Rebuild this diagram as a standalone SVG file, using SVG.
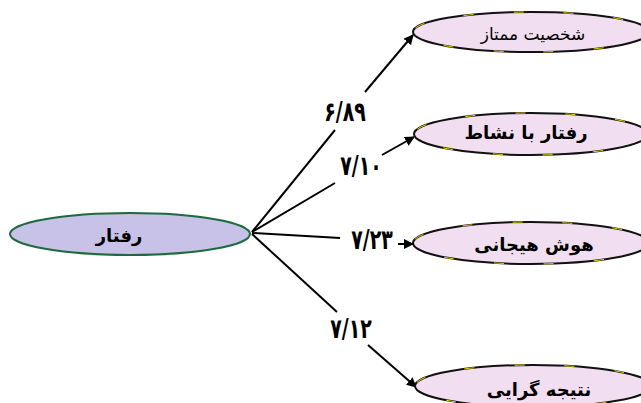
<svg xmlns="http://www.w3.org/2000/svg" width="641" height="403" viewBox="0 0 641 403">
<defs>
<marker id="ah" viewBox="0 0 10 10" refX="9" refY="5" markerWidth="10" markerHeight="10" markerUnits="userSpaceOnUse" orient="auto">
<path d="M0,0 L10,5 L0,10 z" fill="#000"/>
</marker>
</defs>
<style>
.src{fill:#c8c2e8;stroke:#1d6a3c;stroke-width:2}
.tgt{fill:#f1def0;stroke:#111;stroke-width:2}
.tgt2{fill:none;stroke:#e6d800;stroke-width:1;stroke-dasharray:10 40}
.t{font-family:"DejaVu Sans",sans-serif;font-weight:bold;font-size:18px;fill:#000;text-anchor:middle;dominant-baseline:central}
.lab{font-family:"DejaVu Sans",sans-serif;font-weight:bold;font-size:21px;fill:#000;text-anchor:middle;dominant-baseline:central}
.ln{stroke:#000;stroke-width:2;fill:none}
.arr{marker-end:url(#ah)}
</style>
<rect width="641" height="403" fill="#fff"/>
<g id="connectors">
<line class="ln" x1="252" y1="232" x2="335" y2="130"/>
<line class="ln arr" x1="365" y1="92" x2="413" y2="35"/>
<text class="lab" transform="translate(345,112) scale(0.9,1.3)">۶/۸۹</text>
<line class="ln" x1="252" y1="232" x2="335" y2="183"/>
<line class="ln arr" x1="382" y1="155" x2="414" y2="137"/>
<text class="lab" transform="translate(361,166) scale(0.9,1.3)">۷/۱۰</text>
<line class="ln" x1="252" y1="233" x2="340" y2="238"/>
<line class="ln arr" x1="398" y1="244" x2="413" y2="244"/>
<text class="lab" transform="translate(372,240) scale(0.9,1.3)">۷/۲۳</text>
<line class="ln" x1="252" y1="234" x2="337" y2="312"/>
<line class="ln arr" x1="368" y1="345" x2="416" y2="387"/>
<text class="lab" transform="translate(351,329) scale(0.9,1.3)">۷/۱۲</text>
</g>
<g id="n-raftar">
<ellipse class="src" cx="130" cy="234" rx="120" ry="21"/>
<text class="t" x="119" y="235" font-size="22">رفتار</text>
</g>
<g id="n-shakhsiat">
<ellipse class="tgt" cx="531" cy="32" rx="118" ry="20"/>
<ellipse class="tgt2" cx="531" cy="32" rx="118" ry="20"/>
<text class="t" x="533" y="34" style="font-weight:normal;font-size:17px">شخصیت ممتاز</text>
</g>
<g id="n-neshat">
<ellipse class="tgt" cx="531" cy="134" rx="117" ry="21"/>
<ellipse class="tgt2" cx="531" cy="134" rx="117" ry="21"/>
<text class="t" x="526" y="132" font-size="20">رفتار با نشاط</text>
</g>
<g id="n-hoosh">
<ellipse class="tgt" cx="531" cy="243" rx="118" ry="21"/>
<ellipse class="tgt2" cx="531" cy="243" rx="118" ry="21"/>
<text class="t" x="534" y="244" font-size="17">هوش هیجانی</text>
</g>
<g id="n-natije">
<ellipse class="tgt" cx="533" cy="386" rx="118" ry="21"/>
<ellipse class="tgt2" cx="533" cy="386" rx="118" ry="21"/>
<text class="t" x="539" y="389" font-size="17">نتیجه گرایی</text>
</g>
</svg>
